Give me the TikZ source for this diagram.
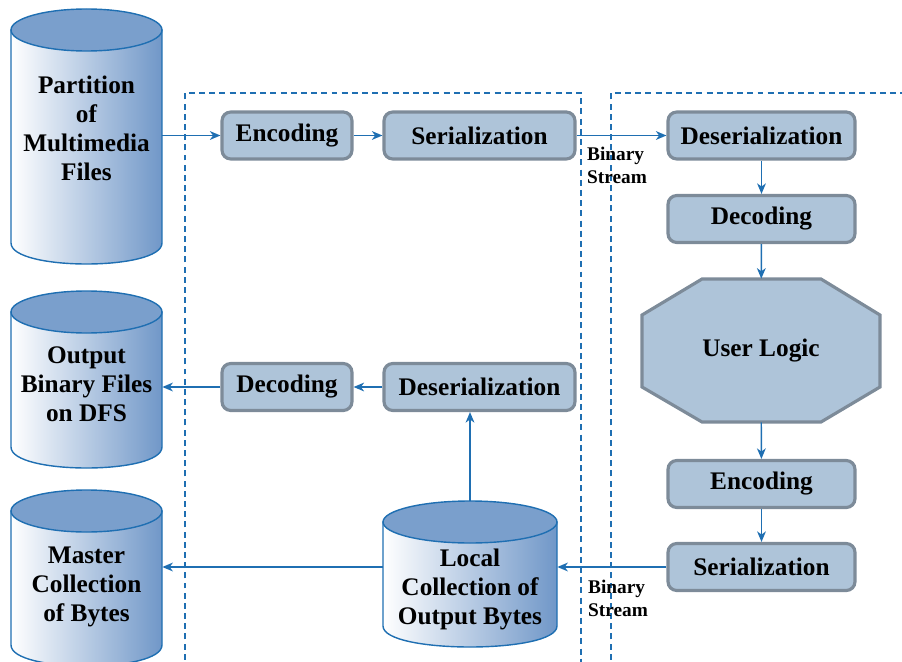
\documentclass[tikz,border=0pt]{standalone}
\usepackage{fontspec}
\setmainfont{Liberation Serif}
\usetikzlibrary{arrows.meta}

\definecolor{linkblue}{HTML}{1F6FB2}
\definecolor{boxfill}{HTML}{AEC4D9}
\definecolor{boxedge}{HTML}{7D8B99}
\definecolor{cyltop}{HTML}{7A9FCC}
\definecolor{cylside}{HTML}{7097C8}

\tikzset{
  stage/.style={draw=boxedge, line width=1.8pt, fill=boxfill, rounded corners=5pt,
    minimum height=0.94cm, inner sep=0pt, font=\bfseries\fontsize{14.4}{16.5}\selectfont},
  store/.style={align=center, inner sep=0pt, font=\bfseries\fontsize{14.4}{16.5}\selectfont},
  flow/.style={draw=linkblue, line width=0.8pt, -{Stealth[length=6pt, width=5pt, inset=1.8pt]}},
  zone/.style={draw=linkblue, line width=1.4pt, dash pattern=on 3.4pt off 2.4pt},
  tag/.style={align=left, inner sep=0pt, font=\bfseries\fontsize{11}{13}\selectfont}
}

% cylinder: left x, right x, centre y of top, lower end of sides
\newcommand{\drum}[4]{%
  \shadedraw[left color=white, right color=cylside, draw=linkblue, line width=0.8pt]
    (#1,#3) -- (#1,#4) .. controls (#1,#4+28) and (#2,#4+28) .. (#2,#4) -- (#2,#3) -- cycle;
  \filldraw[fill=cyltop, draw=linkblue, line width=0.8pt]
    ({(#1+#2)/2},#3) ellipse [x radius={(#2-#1)/2}, y radius=21];
}

\begin{document}
\begin{tikzpicture}[x=0.02cm, y=-0.02cm]
    \useasboundingbox (0,0) rectangle (902,662);

    % Dashed zones
    \draw[zone] (185,670) -- (185,93) -- (581,93) -- (581,670);
    \draw[zone] (611,670) -- (611,93) -- (910,93);

    % Cylinders
    \drum{11}{162}{30}{243}
    \drum{11}{162}{312}{447}
    \drum{11}{162}{511}{645}
    \drum{383}{557}{522}{626}
    \node[store, minimum width=3.02cm] (part) at (86.5,128) {Partition\\of\\Multimedia\\Files};
    \node[store, minimum width=3.02cm] (outbin) at (86.5,384) {Output\\Binary Files\\on DFS};
    \node[store, minimum width=3.02cm] (master) at (86.5,587) {Master\\Collection\\of Bytes};
    \node[store, minimum width=3.48cm] (local) at (470,589) {Local\\Collection of\\Output Bytes};
    \coordinate (localtop) at (470,501);

    % Octagon
    \filldraw[fill=boxfill, draw=boxedge, line width=1.8pt]
      (702,279) -- (821,279) -- (880,315) -- (880,387) -- (821,422)
      -- (702,422) -- (642,387) -- (642,315) -- cycle;
    \node[store, minimum width=4.76cm, minimum height=2.86cm] (logic) at (761,350.5) {User Logic};

    % Boxes
    \node[stage, minimum width=2.6cm] (encT) at (287,135.5) {Encoding};
    \node[stage, minimum width=3.82cm] (serT) at (479.5,135.5) {Serialization};
    \node[stage, minimum width=3.74cm] (deserR) at (761.5,135.5) {Deserialization};
    \node[stage, minimum width=3.74cm] (decR) at (761.5,219) {Decoding};
    \node[stage, minimum width=3.74cm] (encR) at (761.5,484) {Encoding};
    \node[stage, minimum width=3.74cm] (serR) at (761.5,567) {Serialization};
    \node[stage, minimum width=2.6cm] (decL) at (287,387) {Decoding};
    \node[stage, minimum width=3.82cm] (deserL) at (479.5,387) {Deserialization};

    % Labels
    \node[tag] (tagT) at (617,165) {Binary\\Stream};
    \node[tag] (tagB) at (618,598) {Binary\\Stream};

    % Arrows
    \draw[flow] (part.east |- encT.west) -- (encT.west);
    \draw[flow] (encT) -- (serT);
    \draw[flow] (serT) -- (deserR);
    \draw[flow] (deserR) -- (decR);
    \draw[flow] (decR) -- (logic);
    \draw[flow] (logic) -- (encR);
    \draw[flow] (encR) -- (serR);
    \draw[flow] (serR.west) -- (serR.west -| local.east);
    \draw[flow] (localtop) -- (localtop |- deserL.south);
    \draw[flow] (deserL) -- (decL);
    \draw[flow] (decL.west) -- (decL.west -| outbin.east);
    \draw[flow] (local.west |- serR.west) -- (master.east |- serR.west);
\end{tikzpicture}
\end{document}
